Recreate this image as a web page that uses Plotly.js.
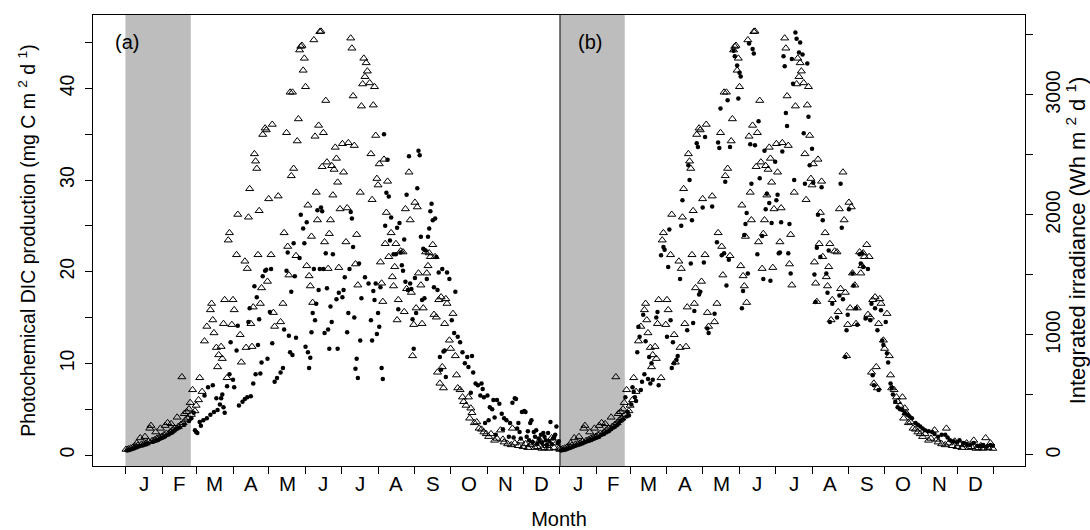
<!DOCTYPE html>
<html><head><meta charset="utf-8">
<script src="https://cdn.plot.ly/plotly-3.0.1.min.js"></script>
<style>html,body{margin:0;padding:0;background:#fff}#chart{width:1090px;height:530px}</style>
</head><body><div id="chart"></div>
<script>
// Integrated irradiance (Wh m-2 d-1), day offset from 1 January
const irrDay = [0,2,4,6,8,9,10,12,13,15,16,17,19,20,21,22,24,25,26,28,29,30,32,33,34,35,37,38,39,41,43,44,46,47,48,49,50,51,52,53,54,55,56,58,59,61,62,64,66,68,71,72,73,74,76,77,78,80,81,82,83,85,86,87,89,90,91,93,94,96,97,100,101,102,103,104,105,106,107,108,109,110,111,112,113,114,115,117,118,119,120,122,123,124,125,128,130,132,133,135,136,137,138,139,140,141,143,144,145,146,147,148,149,150,151,152,153,154,155,156,157,158,159,160,161,162,163,164,165,166,167,168,169,170,171,172,173,174,175,176,177,178,179,180,182,183,185,186,187,189,190,191,192,193,194,195,197,198,199,200,201,202,203,205,206,207,208,209,210,211,212,213,214,215,216,217,218,219,220,221,223,224,225,226,227,228,229,231,233,234,235,236,238,239,240,241,242,243,244,245,246,248,249,250,252,253,254,255,256,258,259,260,261,262,263,264,265,266,267,268,269,270,272,273,275,277,278,279,281,283,284,286,288,289,290,291,293,295,297,299,301,303,305,307,310,312,315,317,318,321,324,325,327,330,332,334,336,338,340,342,344,346,348,350,352,354,356,358,360,362,364];
const irrWh = [46,50,57,65,73,99,80,142,88,92,153,99,111,222,245,119,126,191,138,145,222,153,168,245,180,268,191,260,207,222,314,237,252,650,268,344,291,360,306,383,436,337,543,367,413,459,643,528,949,1071,1209,1262,1125,1017,895,734,834,903,803,1094,1293,643,1790,1851,1086,1293,1209,1668,2004,1002,773,1614,895,1553,1981,2218,1094,903,1232,2509,2448,2387,1668,2035,1262,1392,2670,2723,2708,1446,2134,1668,2754,1186,1071,2157,1109,1262,1851,2685,1737,1499,3022,2326,3022,2387,1660,2616,2800,3374,3404,3412,3205,3305,3068,1576,2081,1492,1408,1821,1270,3458,2655,2188,1958,2746,3527,3530,2402,2685,1775,2953,2440,1553,1844,1958,2410,2165,2379,2563,2471,2272,1561,2050,2593,2356,1775,2058,2601,3473,3389,2991,2578,1591,1836,1415,2188,2907,3091,3305,3152,3267,3198,3100,2509,2127,2915,3068,2662,2303,2249,2425,1607,1431,1278,2463,1760,2020,2280,1652,1851,1484,1408,1568,1760,1125,1293,1698,1691,1193,2050,1385,2356,1958,1354,826,1086,2104,1224,2066,1515,1415,1094,1224,1691,1515,1576,1683,1652,1752,1170,1652,1148,689,1293,597,1316,734,558,1094,1301,1262,956,887,1178,826,666,558,543,482,444,413,482,306,390,352,268,275,222,214,191,176,153,176,122,138,207,130,107,92,84,222,99,77,115,69,92,61,84,99,61,69,122,54,61,77,54,142,61,99,54];

// Photochemical DIC production, panel (a) (mg C m-2 d-1)
const dicADay = [1,3,5,7,9,11,14,16,18,23,25,27,29,31,33,36,38,40,42,45,49,53,55,57,58,59,60,62,63,65,66,68,69,71,73,74,76,77,79,80,81,82,83,85,87,88,90,91,93,94,95,98,100,102,103,104,105,107,108,109,110,111,112,113,114,115,117,118,119,121,122,123,125,127,130,132,133,135,136,137,138,139,140,141,142,143,146,147,149,150,151,152,153,154,155,156,157,158,159,160,161,162,163,164,165,166,167,168,169,170,171,172,173,174,177,178,179,182,183,184,186,187,188,189,190,191,192,193,194,195,196,197,198,201,204,206,207,208,209,210,211,212,213,214,215,216,217,218,219,220,221,222,223,225,227,228,229,230,231,232,233,234,235,236,237,238,239,240,241,242,243,244,245,246,247,248,249,250,251,252,253,254,255,256,257,258,259,260,261,262,263,264,265,266,267,268,269,270,272,274,276,277,279,281,283,285,287,288,290,291,292,294,296,298,299,300,301,302,304,305,306,308,309,310,311,312,314,316,317,318,320,322,323,325,326,327,328,329,330,331,332,333,335,336,337,338,339,340,341,342,343,344,345,346,347,348,349,350,351,352,353,354,355,356,357,358,359,360,361,362,363,364];
const dicA = [0.5,0.55,0.65,0.75,0.85,0.95,1.05,1.15,1.25,1.45,1.55,1.65,1.8,1.9,2.05,2.25,2.4,2.6,2.8,3.0,3.3,3.7,4.0,4.6,2.7,2.5,2.4,3.6,3.2,3.8,6.5,4.0,7.4,4.4,7.6,4.7,6.2,4.9,5.5,6.2,6.6,5.2,4.6,7.5,8.8,12.3,8.2,7.4,11.4,14.1,5.4,5.8,6.1,6.3,14.5,16.0,6.4,7.8,18.4,8.8,17.2,12.0,14.8,8.9,10.1,19.5,20.1,20.2,10.5,15.6,20.3,12.2,8.0,8.4,9.0,9.5,13.7,20.1,22.1,13.0,11.2,17.8,10.9,23.1,19.5,12.8,21.5,26.2,24.7,23.1,11.8,25.4,11.2,9.5,10.6,13.4,15.5,20.3,14.7,16.5,26.7,18.0,20.3,27.0,26.6,20.3,13.3,22.0,18.2,13.7,11.6,16.2,14.5,21.9,17.0,11.6,17.7,17.2,18.0,19.4,13.4,15.5,20.3,26.5,25.8,22.7,15.0,9.4,10.5,8.4,20.9,12.5,17.1,19.4,18.7,14.7,12.5,17.9,16.9,18.7,13.2,15.5,14.0,18.3,9.5,8.3,35.0,25.0,28.6,32.2,28.2,23.4,25.9,21.9,21.9,24.8,15.9,25.3,22.1,20.7,20.1,23.5,18.9,28.4,18.0,32.6,18.7,18.1,14.8,11.6,19.3,15.5,29.1,33.2,32.7,23.8,16.9,22.5,17.1,22.3,19.2,23.8,24.7,26.6,27.4,25.6,18.3,25.8,21.6,18.0,19.9,10.7,9.3,20.3,11.3,11.4,8.5,19.9,19.2,14.7,13.3,17.8,12.9,12.3,11.2,10.0,10.7,9.6,6.8,10.8,9.0,7.8,7.6,6.5,7.8,7.2,6.3,3.5,6.5,3.8,5.2,5.0,6.0,4.1,2.2,6.0,5.6,4.5,2.8,4.0,3.8,2.0,3.5,5.7,1.9,6.2,6.1,2.9,3.5,2.5,1.8,4.7,4.8,4.7,2.0,2.6,1.6,3.5,3.8,1.4,2.5,2.0,2.7,1.2,1.8,1.5,2.2,1.3,2.4,2.0,1.6,1.1,2.4,1.5,3.6,1.2,1.8,1.9,2.2,3.1,1.3,1.5];

// Photochemical DIC production, panel (b) (mg C m-2 d-1)
const dicBDay = [1,3,5,7,9,11,13,15,17,19,21,23,25,27,29,31,33,35,37,39,41,43,45,47,49,51,53,55,56,57,58,60,61,62,63,64,65,66,67,68,69,70,71,72,74,75,76,77,78,81,82,83,85,87,88,90,91,92,93,94,95,96,98,99,101,102,103,107,108,109,110,111,112,113,115,116,117,118,120,121,122,124,125,128,130,132,133,134,135,136,138,139,140,141,142,143,146,147,149,150,151,152,153,154,155,156,157,158,159,160,161,162,163,164,166,167,168,170,171,172,173,174,176,177,178,181,182,183,184,185,186,187,188,189,190,191,192,193,194,195,196,197,198,199,201,202,204,205,206,208,209,210,212,213,214,215,216,217,219,220,221,224,225,226,227,229,233,235,236,237,238,240,241,242,243,246,247,249,250,252,253,254,255,257,259,261,262,263,264,265,267,268,270,271,272,274,275,276,278,279,280,282,284,286,288,290,292,294,296,299,301,303,305,307,310,313,315,318,321,324,326,328,331,334,336,339,342,345,348,351,354,356,359,362,364];
const dicB = [0.5,0.55,0.6,0.7,0.8,0.9,1.0,1.1,1.2,1.3,1.4,1.5,1.6,1.7,1.8,1.9,2.0,2.2,2.3,2.5,2.6,2.8,3.0,3.2,3.4,3.7,3.9,6.3,4.2,4.7,4.3,5.5,7.4,6.9,6.3,5.9,11.2,14.0,12.9,7.1,8.0,15.3,8.8,12.4,8.3,10.7,7.8,10.0,8.2,15.0,15.6,7.6,21.8,22.7,22.4,12.9,20.5,24.6,14.7,9.5,12.3,10.0,10.4,10.8,19.2,25.0,27.8,13.6,31.6,30.0,20.9,25.6,14.4,15.7,34.0,33.6,17.5,17.8,27.0,21.0,34.7,13.8,13.3,27.1,15.4,23.2,34.1,33.5,37.8,21.8,22.0,29.8,18.5,38.7,21.3,33.6,44.1,43.5,42.5,38.9,41.7,41.3,16.0,17.9,24.0,25.2,26.4,19.8,44.9,33.9,29.6,44.3,43.8,33.8,21.9,36.4,30.2,23.9,19.2,33.2,26.8,28.5,27.5,19.0,25.3,32.0,27.8,28.4,22.0,22.1,25.4,33.1,43.5,42.4,37.3,35.9,22.0,25.2,19.8,43.2,40.5,30.0,46.1,45.4,43.9,45.0,43.7,35.1,29.6,42.7,36.9,31.6,33.4,29.7,19.7,16.7,22.6,26.2,21.6,29.2,25.6,19.8,17.7,22.3,14.5,16.5,15.0,17.4,29.6,24.8,17.0,10.7,13.6,15.3,26.8,19.8,18.5,16.0,14.2,21.9,20.9,22.0,20.5,14.9,20.3,14.7,16.5,8.7,7.6,16.0,13.6,7.1,15.8,12.5,12.0,14.5,11.1,10.1,7.8,7.3,6.6,5.8,5.2,5.0,4.9,4.6,4.4,4.2,4.0,3.5,3.3,3.1,2.9,2.7,2.6,2.5,2.3,2.0,2.2,2.2,1.9,1.6,1.5,1.4,1.6,1.3,1.2,1.1,1.3,1.0,1.0,1.1,0.9,1.1,1.0];

const monthLabels = ['J','F','M','A','M','J','J','A','S','O','N','D'];
const monthStart = [0,31,59,90,120,151,181,212,243,273,304,334,365];
const yearLength = 365;
const darkPeriod = [-0.5, 54.5];
const leftTicks = [0,5,10,15,20,25,30,35,40,45];
const leftTickText = ['0','','10','','20','','30','','40',''];
const rightTicks = [0,500,1000,1500,2000,2500,3000,3500];
const rightTickText = ['0','','1000','','2000','','3000',''];

const FONT = 'Liberation Sans, Arial, Helvetica, sans-serif';

const shift = a => a.map(d => d + yearLength);
const tri = {symbol:'triangle-up-open', size:7, color:'#000', line:{color:'#000', width:1}};
const dot = {symbol:'circle', size:4.5, color:'#000', line:{width:0}};

const traces = [
  {x: dicADay, y: dicA, type:'scatter', mode:'markers', marker: dot, yaxis:'y', hoverinfo:'skip'},
  {x: shift(dicBDay), y: dicB, type:'scatter', mode:'markers', marker: dot, yaxis:'y', hoverinfo:'skip'},
  {x: irrDay, y: irrWh, type:'scatter', mode:'markers', marker: tri, yaxis:'y2', hoverinfo:'skip'},
  {x: shift(irrDay), y: irrWh, type:'scatter', mode:'markers', marker: tri, yaxis:'y2', hoverinfo:'skip'}
];

const tickVals = monthStart.concat(monthStart.slice(1).map(d => d + yearLength));
const annotations = [];
[0, yearLength].forEach(off => {
  monthLabels.forEach((m, i) => {
    annotations.push({x: off + (monthStart[i] + monthStart[i+1]) / 2, xref:'x', y:-0.038, yref:'paper',
      text: m, showarrow:false, xanchor:'center', yanchor:'middle', font:{family:FONT, size:20.5, color:'#000'}});
  });
});
annotations.push({x:-11.1, xref:'x', y:0.94, yref:'paper', text:'(a)', showarrow:false, xanchor:'left', yanchor:'middle', font:{family:FONT, size:20, color:'#000'}});
annotations.push({x:yearLength + 13.8, xref:'x', y:0.94, yref:'paper', text:'(b)', showarrow:false, xanchor:'left', yanchor:'middle', font:{family:FONT, size:20, color:'#000'}});

const layout = {
  width:1090, height:530,
  margin:{l:93, r:65, t:15, b:64},
  paper_bgcolor:'#fff', plot_bgcolor:'#fff',
  showlegend:false,
  font:{family:FONT, size:19.5, color:'#000'},
  xaxis:{range:[-27.75, 756.1], tickvals:tickVals, ticks:'outside', ticklen:7, tickwidth:1, tickcolor:'#000',
    showticklabels:false, showline:true, linecolor:'#000', linewidth:1, mirror:true, showgrid:false, zeroline:false,
    title:{text:'Month', font:{family:FONT, size:20, color:'#000'}, standoff:41}},
  yaxis:{range:[-1.2, 48], tickvals:leftTicks, ticktext:leftTickText, ticks:'outside', ticklen:7, tickwidth:1, tickcolor:'#000',
    tickangle:-90, ticklabelstandoff:3, showline:true, linecolor:'#000', linewidth:1, mirror:true, showgrid:false, zeroline:false,
    tickfont:{size:19.5}, title:{text:'Photochemical DIC production (mg C m <sup>2</sup> d <sup>1</sup>)', font:{size:19.5}, standoff:15}},
  yaxis2:{overlaying:'y', side:'right', range:[-91.7, 3666], tickvals:rightTicks, ticktext:rightTickText, ticks:'outside', ticklen:7,
    tickwidth:1, tickcolor:'#000', tickangle:-90, ticklabelstandoff:4, showline:false, showgrid:false, zeroline:false,
    tickfont:{size:19.5}, title:{text:'Integrated irradiance (Wh m <sup>2</sup> d <sup>1</sup>)', font:{size:22}, standoff:8}},
  shapes:[
    {type:'rect', xref:'x', yref:'paper', x0:darkPeriod[0], x1:darkPeriod[1], y0:0, y1:1, fillcolor:'#bdbdbd', line:{width:0}, layer:'below'},
    {type:'rect', xref:'x', yref:'paper', x0:yearLength + darkPeriod[0] + 0.5, x1:yearLength + darkPeriod[1], y0:0, y1:1, fillcolor:'#bdbdbd', line:{width:0}, layer:'below'},
    {type:'line', xref:'x', yref:'paper', x0:yearLength, x1:yearLength, y0:0, y1:1, line:{color:'#000', width:1}}
  ],
  annotations: annotations
};

Plotly.newPlot('chart', traces, layout, {staticPlot:true, displayModeBar:false});
</script>
</body></html>
